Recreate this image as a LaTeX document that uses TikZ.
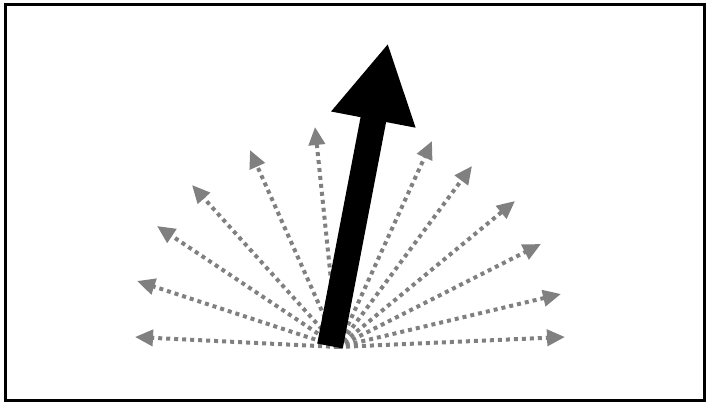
\documentclass[tikz,border=0pt]{standalone}
\usetikzlibrary{arrows.meta}

\begin{document}
\begin{tikzpicture}[x=1pt, y=-1pt,
    frame/.style={draw, line width=3pt},
    ray/.style={-{Triangle[length=18pt, width=16pt]}, gray, line width=4pt, dash pattern=on 4pt off 4pt},
    main/.style={-{Triangle[length=78pt, width=80pt]}, line width=26pt}
  ]
    \useasboundingbox (0,0) rectangle (707,403);
    \draw[frame] (5,5) rectangle (704,400);
    \coordinate (o) at (338,347);
    \foreach \i/\x/\y in {1/135/337, 2/137/281, 3/157/226, 4/192/185, 5/250/150, 6/315/127,
                          7/432/141, 8/472/166, 9/515/201, 10/541/244, 11/561/294, 12/565/337}{
      \coordinate (r\i) at (\x,\y);
      \draw[ray] (o) -- (r\i);
    }
    \coordinate (base) at (330,346);
    \coordinate (tip) at (388,43);
    \draw[main] (base) -- (tip);
\end{tikzpicture}
\end{document}
